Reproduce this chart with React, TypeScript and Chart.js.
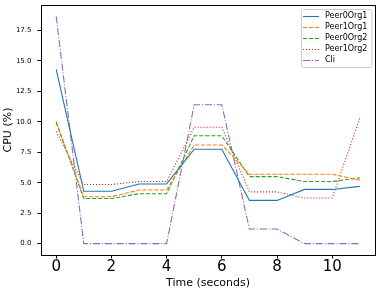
import React, { useEffect, useRef } from "react";
import { Chart, registerables } from "chart.js";

Chart.register(...registerables);

const time = [0, 1, 2, 3, 4, 5, 6, 7, 8, 9, 10, 11];
const peer0Org1 = [14.3, 4.3, 4.3, 4.9, 4.9, 7.75, 7.75, 3.55, 3.55, 4.45, 4.45, 4.7];
const peer1Org1 = [9.9, 3.85, 3.85, 4.4, 4.4, 8.1, 8.1, 5.7, 5.7, 5.7, 5.7, 5.2];
const peer0Org2 = [10.0, 3.7, 3.7, 4.1, 4.1, 8.85, 8.85, 5.5, 5.5, 5.1, 5.1, 5.4];
const peer1Org2 = [9.2, 4.85, 4.85, 5.1, 5.1, 9.55, 9.55, 4.25, 4.25, 3.75, 3.75, 10.3];
const cli = [18.65, 0, 0, 0, 0, 11.4, 11.4, 1.2, 1.2, 0, 0, 0];

const seriesNames = ["Peer0Org1", "Peer1Org1", "Peer0Org2", "Peer1Org2", "Cli"];
const xTicks = [0, 2, 4, 6, 8, 10];
const yTicks = [0, 2.5, 5, 7.5, 10, 12.5, 15, 17.5];

const FONT = "'DejaVu Sans', sans-serif";

const framePlugin = {
  id: "frame",
  afterDraw(chart: any) {
    const { ctx, chartArea: a } = chart;
    ctx.save();
    ctx.strokeStyle = "#000";
    ctx.lineWidth = 1;
    ctx.strokeRect(Math.round(a.left) + 0.5, Math.round(a.top) + 0.5, Math.round(a.right - a.left), Math.round(a.bottom - a.top));
    // legend
    const ds = chart.data.datasets;
    ctx.font = `8px ${FONT}`;
    let maxW = 0;
    ds.forEach((d: any) => { maxW = Math.max(maxW, ctx.measureText(d.label).width); });
    const boxW = 24 + maxW + 4;
    const boxH = 58;
    const bx = Math.round(a.right - 3.5 - boxW);
    const by = Math.round(a.top + 4);
    ctx.fillStyle = "rgba(255,255,255,0.8)";
    ctx.strokeStyle = "#cccccc";
    ctx.beginPath();
    (ctx as any).roundRect(bx + 0.5, by + 0.5, boxW, boxH, 2);
    ctx.fill();
    ctx.stroke();
    ds.forEach((d: any, i: number) => {
      const y = by + 6.5 + i * 11;
      ctx.save();
      ctx.strokeStyle = d.borderColor;
      ctx.lineWidth = d.borderWidth;
      ctx.setLineDash(d.borderDash || []);
      ctx.beginPath();
      ctx.moveTo(bx + 2, Math.round(y) + 0.5);
      ctx.lineTo(bx + 18, Math.round(y) + 0.5);
      ctx.stroke();
      ctx.restore();
      ctx.fillStyle = "#000";
      ctx.textBaseline = "middle";
      ctx.textAlign = "left";
      ctx.fillText(d.label, bx + 24, y + 0.5);
    });
    ctx.restore();
  },
};

export default function App() {
  const ref = useRef<HTMLCanvasElement>(null);
  useEffect(() => {
    if (!ref.current) return;
    const colors = ["#1f77b4", "#ff7f0e", "#2ca02c", "#d62728", "#9467bd"];
    const dashes = [[], [4.2, 1.8], [4.2, 1.8], [1.1, 1.9], [7.2, 1.8, 1.1, 1.8]];
    const values = [peer0Org1, peer1Org1, peer0Org2, peer1Org2, cli];
    const chart = new Chart(ref.current, {
      type: "line",
      data: {
        datasets: values.map((v, i) => ({
          label: seriesNames[i],
          data: v.map((y, j) => ({ x: time[j], y })),
          borderColor: colors[i],
          borderWidth: 1.1,
          borderDash: dashes[i],
          pointRadius: 0,
          tension: 0,
          fill: false,
        })),
      },
      options: {
        animation: false,
        responsive: false,
        layout: { padding: { top: 5, right: 6, left: 0, bottom: 0 } },
        plugins: { legend: { display: false }, tooltip: { enabled: false } },
        scales: {
          x: {
            type: "linear",
            min: -0.55,
            max: 11.55,
            afterBuildTicks: (s: any) => { s.ticks = xTicks.map((v) => ({ value: v })); },
            afterFit: (s: any) => { s.height = 39; s.paddingLeft = 0; s.paddingRight = 0; },
            ticks: { font: { family: FONT, size: 15 }, color: "#000", padding: 0, maxRotation: 0, callback: (v: any) => String(v) },
            grid: { drawOnChartArea: false, drawTicks: true, tickLength: 3.5, color: "#000" },
            border: { display: false },
            title: { display: true, text: "Time (seconds)", font: { family: FONT, size: 11 }, color: "#000", padding: { top: 0, bottom: 4.5 } },
          },
          y: {
            type: "linear",
            min: -0.93,
            max: 19.58,
            afterBuildTicks: (s: any) => { s.ticks = yTicks.map((v) => ({ value: v })); },
            afterFit: (s: any) => { s.width = 41; s.paddingTop = 0; s.paddingBottom = 0; },
            ticks: { font: { family: FONT, size: 7 }, color: "#000", padding: 6, callback: (v: any) => Number(v).toFixed(1) },
            grid: { drawOnChartArea: false, drawTicks: true, tickLength: 3.5, color: "#000" },
            border: { display: false },
            title: { display: true, text: "CPU (%)", font: { family: FONT, size: 11 }, color: "#000", padding: { top: 2, bottom: 0 } },
          },
        },
      },
      plugins: [framePlugin],
    });
    return () => chart.destroy();
  }, []);
  return (
    <div style={{ position: "absolute", left: 0, top: 0, width: 381, height: 294, background: "#fff" }}>
      <canvas ref={ref} width={381} height={294} style={{ display: "block" }} />
    </div>
  );
}
